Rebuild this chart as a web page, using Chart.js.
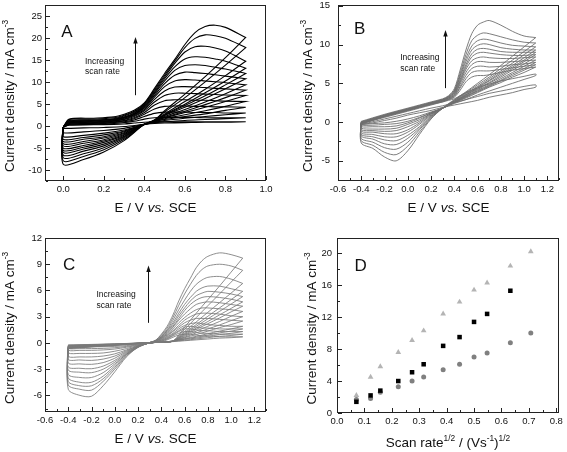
<!DOCTYPE html>
<html lang="en">
<head>
<meta charset="UTF-8">
<title>Cyclic voltammograms</title>
<style>
  body { margin: 0; background: #fff; }
  .panel { position: absolute; }
</style>
</head>
<body>
<canvas id="chartA" class="panel" width="283" height="226" style="left:0;top:0"></canvas>
<canvas id="chartB" class="panel" width="284" height="226" style="left:283px;top:0"></canvas>
<canvas id="chartC" class="panel" width="283" height="226" style="left:0;top:226px"></canvas>
<canvas id="chartD" class="panel" width="284" height="226" style="left:283px;top:226px"></canvas>

<script src="https://cdn.jsdelivr.net/npm/chart.js@4"></script>
<script>
// ---- panel A : potentials of the forward / reverse sweep, one row per scan rate
const aFwdE = [0, 0.03, 0.15, 0.25, 0.3, 0.35, 0.4, 0.45, 0.5, 0.55, 0.6, 0.65, 0.7, 0.75, 0.8, 0.9];
const aRevE = [0.9, 0.8, 0.7, 0.6, 0.5, 0.45, 0.4, 0.3, 0.2, 0.1, 0];
const aFwd = [
  [-0.2, 0.2, 0.3, 0.4, 0.5, 0.7, 0.9, 1.0, 1.0, 1.0, 1.0, 1.0, 1.0, 1.0, 1.0, 1.0],
  [-0.2, 0.3, 0.4, 0.6, 0.8, 1.1, 1.6, 1.9, 2.0, 2.0, 2.0, 2.0, 1.9, 1.9, 1.9, 1.9],
  [-0.2, 0.4, 0.5, 0.8, 1.0, 1.4, 2.2, 2.9, 3.2, 3.2, 3.2, 3.1, 3.1, 3.1, 3.0, 3.0],
  [-0.2, 0.5, 0.6, 0.9, 1.2, 1.7, 2.7, 3.9, 4.5, 4.6, 4.6, 4.5, 4.5, 4.4, 4.4, 4.3],
  [-0.2, 0.6, 0.7, 1.0, 1.3, 1.9, 3.1, 4.8, 5.8, 6.0, 6.0, 5.9, 5.9, 5.8, 5.7, 5.6],
  [-0.2, 0.7, 0.8, 1.1, 1.5, 2.2, 3.5, 5.5, 7.0, 7.5, 7.5, 7.4, 7.3, 7.2, 7.1, 7.0],
  [-0.2, 0.8, 0.9, 1.2, 1.6, 2.4, 3.8, 6.1, 8.0, 8.9, 9.0, 8.9, 8.8, 8.6, 8.5, 8.2],
  [-0.2, 0.9, 1.0, 1.3, 1.8, 2.6, 4.1, 6.6, 9.0, 10.3, 10.6, 10.5, 10.3, 10.1, 9.9, 9.4],
  [-0.2, 1.0, 1.1, 1.4, 1.9, 2.7, 4.3, 7.0, 9.7, 11.6, 12.3, 12.2, 12.0, 11.7, 11.4, 10.8],
  [-0.2, 1.1, 1.2, 1.5, 2.0, 2.9, 4.5, 7.4, 10.3, 12.7, 13.8, 14.0, 13.8, 13.4, 13.0, 12.0],
  [-0.2, 1.2, 1.3, 1.6, 2.1, 3.0, 4.7, 7.7, 10.8, 13.5, 15.3, 15.8, 15.7, 15.3, 14.8, 13.2],
  [-0.2, 1.3, 1.4, 1.7, 2.3, 3.2, 4.9, 8.0, 11.2, 14.3, 16.9, 18.1, 18.2, 17.8, 17.1, 14.8],
  [-0.2, 1.5, 1.6, 1.9, 2.5, 3.4, 5.1, 8.3, 11.6, 14.8, 17.9, 20.0, 20.8, 20.6, 20.0, 17.9],
  [-0.2, 1.6, 1.8, 2.1, 2.7, 3.6, 5.3, 8.6, 12.0, 15.2, 18.6, 21.3, 22.7, 23.0, 22.5, 20.2]
];
const aRev = [
  [1.0, 0.9, 0.9, 0.8, 0.7, 0.6, 0.4, -0.1, -0.3, -0.4, -0.5],
  [1.9, 1.7, 1.5, 1.3, 1.0, 0.8, 0.4, -0.5, -1.0, -1.3, -1.5],
  [3.0, 2.6, 2.2, 1.8, 1.3, 0.9, 0.4, -0.9, -1.6, -2.1, -2.4],
  [4.3, 3.6, 2.8, 2.2, 1.5, 1.0, 0.4, -1.1, -2.0, -2.6, -3.0],
  [5.6, 4.5, 3.5, 2.6, 1.7, 1.0, 0.4, -1.3, -2.4, -3.0, -3.5],
  [7.0, 5.6, 4.3, 3.1, 1.9, 1.1, 0.4, -1.5, -2.7, -3.5, -4.0],
  [8.2, 6.5, 4.9, 3.4, 2.0, 1.1, 0.4, -1.7, -3.1, -3.9, -4.5],
  [9.4, 7.4, 5.5, 3.8, 2.2, 1.2, 0.4, -1.9, -3.4, -4.4, -5.0],
  [10.8, 8.5, 6.3, 4.3, 2.4, 1.2, 0.4, -2.1, -3.7, -4.8, -5.5],
  [12.0, 9.4, 6.9, 4.7, 2.5, 1.2, 0.4, -2.3, -4.1, -5.2, -6.0],
  [13.2, 10.3, 7.6, 5.0, 2.6, 1.3, 0.4, -2.5, -4.5, -5.7, -6.6],
  [14.8, 11.5, 8.4, 5.6, 2.8, 1.3, 0.4, -2.7, -4.9, -6.3, -7.2],
  [17.9, 13.9, 10.1, 6.5, 3.2, 1.4, 0.4, -3.0, -5.4, -6.9, -7.9],
  [20.2, 15.6, 11.3, 7.3, 3.5, 1.4, 0.4, -3.3, -5.9, -7.6, -8.7]
];
const aXTicks = [0, 0.2, 0.4, 0.6, 0.8, 1.0];
const aYTicks = [-10, -5, 0, 5, 10, 15, 20, 25];

// ---- panel B
const bFwdE = [-0.4, -0.2, 0.0, 0.2, 0.3, 0.35, 0.4, 0.45, 0.5, 0.55, 0.6, 0.65, 0.7, 0.8, 0.9, 1.0, 1.1];
const bRevE = [1.1, 1.0, 0.9, 0.8, 0.7, 0.6, 0.5, 0.4, 0.3, 0.2, 0.1, 0.0, -0.1, -0.2, -0.3, -0.4];
const bFwd = [
  [-0.3, 0.4, 1.1, 1.8, 2.1, 2.3, 2.5, 2.7, 2.9, 3.1, 3.3, 3.5, 3.7, 4.0, 4.3, 4.6, 4.8],
  [-0.2, 0.6, 1.4, 2.2, 2.6, 2.8, 3.0, 3.4, 3.8, 4.1, 4.4, 4.7, 4.9, 5.3, 5.6, 5.9, 6.2],
  [-0.2, 0.7, 1.5, 2.3, 2.6, 2.9, 3.2, 4.1, 5.2, 5.8, 6.0, 6.0, 6.1, 6.4, 6.7, 6.9, 7.1],
  [-0.2, 0.7, 1.5, 2.3, 2.7, 2.9, 3.3, 4.4, 5.6, 6.4, 6.6, 6.6, 6.6, 6.8, 7.0, 7.2, 7.4],
  [-0.2, 0.7, 1.5, 2.3, 2.7, 3.0, 3.4, 4.6, 6.0, 6.9, 7.2, 7.2, 7.1, 7.2, 7.4, 7.5, 7.7],
  [-0.1, 0.8, 1.6, 2.4, 2.7, 3.0, 3.5, 4.9, 6.4, 7.4, 7.8, 7.8, 7.7, 7.7, 7.8, 7.9, 8.0],
  [-0.1, 0.8, 1.6, 2.4, 2.8, 3.1, 3.6, 5.1, 6.8, 7.9, 8.3, 8.4, 8.3, 8.2, 8.2, 8.3, 8.4],
  [-0.1, 0.8, 1.6, 2.4, 2.8, 3.1, 3.7, 5.3, 7.1, 8.4, 8.9, 9.0, 8.9, 8.7, 8.6, 8.6, 8.7],
  [-0.1, 0.8, 1.6, 2.4, 2.8, 3.2, 3.8, 5.5, 7.4, 8.8, 9.4, 9.5, 9.4, 9.1, 9.0, 9.0, 9.0],
  [0.0, 0.9, 1.7, 2.5, 2.9, 3.2, 3.9, 5.8, 7.8, 9.3, 9.9, 10.1, 10.0, 9.6, 9.4, 9.3, 9.3],
  [0.0, 0.9, 1.7, 2.5, 2.9, 3.3, 4.0, 6.0, 8.2, 9.8, 10.5, 10.7, 10.6, 10.2, 9.9, 9.8, 9.7],
  [0.0, 0.9, 1.7, 2.5, 2.9, 3.3, 4.1, 6.3, 8.7, 10.5, 11.2, 11.5, 11.4, 11.0, 10.6, 10.3, 10.2],
  [0.1, 1.0, 1.8, 2.6, 3.0, 3.4, 4.3, 6.7, 9.3, 11.4, 12.5, 12.9, 13.1, 12.5, 11.7, 11.1, 10.9]
];
const bRev = [
  [4.5, 4.2, 3.8, 3.5, 3.2, 2.8, 2.5, 2.2, 1.9, 1.5, 1.2, 0.9, 0.5, 0.2, -0.1, -0.3],
  [6.0, 5.5, 5.0, 4.5, 4.0, 3.5, 2.9, 2.4, 1.8, 1.3, 0.8, 0.4, 0.1, -0.1, -0.2, -0.3],
  [7.1, 6.4, 5.8, 5.1, 4.5, 3.8, 3.1, 2.5, 1.8, 1.2, 0.6, 0.1, -0.2, -0.3, -0.4, -0.4],
  [7.4, 6.7, 6.0, 5.3, 4.6, 3.9, 3.2, 2.5, 1.8, 1.2, 0.5, -0.1, -0.5, -0.6, -0.6, -0.6],
  [7.7, 6.9, 6.2, 5.4, 4.7, 4.0, 3.3, 2.5, 1.8, 1.1, 0.3, -0.3, -0.8, -0.9, -0.9, -0.8],
  [8.0, 7.2, 6.4, 5.6, 4.8, 4.1, 3.3, 2.6, 1.8, 1.1, 0.1, -0.6, -1.1, -1.2, -1.1, -1.0],
  [8.4, 7.5, 6.7, 5.8, 5.0, 4.2, 3.4, 2.6, 1.8, 1.0, -0.1, -1.0, -1.5, -1.5, -1.3, -1.2],
  [8.7, 7.8, 6.9, 6.0, 5.1, 4.3, 3.5, 2.6, 1.8, 0.9, -0.3, -1.3, -1.9, -1.9, -1.6, -1.4],
  [9.0, 8.0, 7.1, 6.2, 5.3, 4.4, 3.5, 2.7, 1.8, 0.8, -0.6, -1.7, -2.4, -2.3, -1.9, -1.6],
  [9.3, 8.3, 7.3, 6.4, 5.4, 4.5, 3.6, 2.7, 1.8, 0.7, -0.8, -2.1, -2.9, -2.8, -2.2, -1.8],
  [9.7, 8.7, 7.6, 6.6, 5.6, 4.6, 3.7, 2.8, 1.8, 0.6, -1.0, -2.6, -3.5, -3.3, -2.6, -2.1],
  [10.2, 9.1, 8.0, 6.9, 5.8, 4.8, 3.8, 2.8, 1.8, 0.5, -1.3, -3.1, -4.2, -3.9, -3.0, -2.4],
  [10.9, 9.7, 8.5, 7.3, 6.1, 5.0, 3.9, 2.9, 1.8, 0.4, -1.6, -3.7, -5.0, -4.5, -3.4, -2.7]
];
const bXTicks = [-0.6, -0.4, -0.2, 0, 0.2, 0.4, 0.6, 0.8, 1.0, 1.2];
const bYTicks = [-5, 0, 5, 10, 15];

// ---- panel C
const cFwdE = [-0.4, -0.2, 0.0, 0.2, 0.3, 0.35, 0.4, 0.45, 0.5, 0.55, 0.6, 0.65, 0.7, 0.75, 0.8, 0.9, 1.0, 1.1];
const cRevE = [1.1, 1.0, 0.9, 0.8, 0.7, 0.6, 0.5, 0.4, 0.3, 0.2, 0.1, 0.0, -0.1, -0.2, -0.3, -0.4];
const cFwd = [
  [-0.24, -0.17, -0.1, -0.02, 0.02, 0.05, 0.15, 0.35, 0.65, 0.9, 1.0, 1.0, 0.9, 0.8, 0.8, 0.7, 0.7, 0.7],
  [-0.28, -0.2, -0.12, -0.02, 0.02, 0.06, 0.2, 0.45, 0.8, 1.1, 1.3, 1.3, 1.2, 1.1, 1.1, 1.0, 1.0, 1.0],
  [-0.32, -0.22, -0.13, -0.03, 0.02, 0.08, 0.25, 0.5, 0.9, 1.3, 1.6, 1.6, 1.5, 1.4, 1.4, 1.3, 1.3, 1.3],
  [-0.36, -0.25, -0.15, -0.03, 0.03, 0.1, 0.3, 0.6, 1.0, 1.4, 1.8, 1.9, 1.8, 1.7, 1.7, 1.6, 1.6, 1.6],
  [-0.4, -0.28, -0.16, -0.04, 0.03, 0.1, 0.35, 0.7, 1.1, 1.6, 2.0, 2.2, 2.3, 2.2, 2.1, 2.0, 1.9, 1.9],
  [-0.44, -0.31, -0.18, -0.04, 0.03, 0.12, 0.4, 0.8, 1.3, 1.8, 2.3, 2.6, 2.8, 2.8, 2.8, 2.7, 2.6, 2.5],
  [-0.47, -0.33, -0.19, -0.04, 0.04, 0.15, 0.5, 0.9, 1.4, 2.0, 2.6, 3.0, 3.3, 3.4, 3.4, 3.3, 3.1, 3.0],
  [-0.5, -0.35, -0.2, -0.05, 0.04, 0.15, 0.5, 1.0, 1.6, 2.3, 2.9, 3.4, 3.8, 4.0, 4.0, 3.9, 3.8, 3.6],
  [-0.52, -0.36, -0.21, -0.05, 0.04, 0.2, 0.6, 1.1, 1.8, 2.6, 3.3, 3.9, 4.4, 4.6, 4.7, 4.6, 4.4, 4.2],
  [-0.54, -0.38, -0.22, -0.05, 0.05, 0.2, 0.6, 1.2, 1.9, 2.8, 3.7, 4.4, 4.9, 5.2, 5.3, 5.2, 5.0, 4.7],
  [-0.56, -0.39, -0.23, -0.05, 0.05, 0.2, 0.7, 1.3, 2.1, 3.1, 4.0, 4.8, 5.4, 5.7, 5.9, 5.8, 5.6, 5.3],
  [-0.58, -0.4, -0.24, -0.06, 0.05, 0.25, 0.7, 1.4, 2.3, 3.4, 4.4, 5.2, 5.9, 6.3, 6.5, 6.5, 6.2, 5.9],
  [-0.6, -0.42, -0.25, -0.06, 0.05, 0.25, 0.8, 1.5, 2.6, 3.8, 4.9, 5.9, 6.7, 7.2, 7.5, 7.6, 7.3, 6.8],
  [-0.62, -0.43, -0.26, -0.07, 0.05, 0.3, 0.9, 1.7, 2.9, 4.3, 5.6, 6.7, 7.7, 8.4, 8.8, 9.0, 8.8, 8.3],
  [-0.65, -0.45, -0.27, -0.07, 0.05, 0.3, 1.0, 1.9, 3.2, 4.8, 6.2, 7.4, 8.6, 9.4, 9.9, 10.3, 10.1, 9.7]
];
const cRev = [
  [0.7, 0.6, 0.55, 0.45, 0.35, 0.25, 0.15, 0.1, 0.0, -0.1, -0.17, -0.22, -0.24, -0.25, -0.25, -0.25],
  [1.0, 0.85, 0.75, 0.6, 0.45, 0.3, 0.2, 0.1, 0.0, -0.15, -0.3, -0.4, -0.43, -0.45, -0.45, -0.45],
  [1.3, 1.1, 0.95, 0.75, 0.55, 0.4, 0.2, 0.1, 0.0, -0.2, -0.4, -0.55, -0.62, -0.65, -0.65, -0.65],
  [1.6, 1.35, 1.15, 0.9, 0.65, 0.45, 0.2, 0.1, 0.0, -0.25, -0.5, -0.7, -0.8, -0.85, -0.85, -0.85],
  [1.9, 1.6, 1.35, 1.05, 0.75, 0.5, 0.2, 0.1, 0.0, -0.3, -0.65, -0.95, -1.15, -1.2, -1.2, -1.15],
  [2.5, 2.1, 1.75, 1.35, 0.95, 0.6, 0.2, 0.1, 0.0, -0.35, -0.8, -1.25, -1.5, -1.6, -1.6, -1.55],
  [3.0, 2.55, 2.05, 1.6, 1.15, 0.65, 0.2, 0.1, 0.0, -0.35, -0.9, -1.5, -1.85, -2.0, -1.95, -1.9],
  [3.6, 3.05, 2.45, 1.9, 1.35, 0.75, 0.2, 0.1, 0.0, -0.4, -1.0, -1.75, -2.25, -2.45, -2.4, -2.3],
  [4.2, 3.55, 2.85, 2.2, 1.55, 0.85, 0.2, 0.1, 0.0, -0.4, -1.1, -2.0, -2.65, -2.95, -2.9, -2.75],
  [4.7, 3.95, 3.2, 2.45, 1.7, 0.95, 0.2, 0.1, 0.0, -0.4, -1.2, -2.2, -3.0, -3.4, -3.35, -3.1],
  [5.3, 4.45, 3.6, 2.75, 1.9, 1.05, 0.2, 0.1, 0.0, -0.45, -1.3, -2.4, -3.4, -3.95, -3.95, -3.6],
  [5.9, 4.95, 4.0, 3.05, 2.1, 1.15, 0.2, 0.1, 0.0, -0.45, -1.3, -2.6, -3.8, -4.5, -4.5, -4.0],
  [6.8, 5.7, 4.6, 3.5, 2.4, 1.3, 0.2, 0.1, 0.0, -0.5, -1.4, -2.8, -4.1, -4.9, -4.9, -4.4],
  [8.3, 6.95, 5.6, 4.25, 2.9, 1.55, 0.2, 0.1, 0.0, -0.5, -1.5, -3.0, -4.4, -5.4, -5.3, -4.8],
  [9.7, 8.1, 6.5, 4.95, 3.4, 1.8, 0.2, 0.1, 0.0, -0.5, -1.6, -3.3, -4.9, -6.1, -6.0, -5.3]
];
const cXTicks = [-0.6, -0.4, -0.2, 0, 0.2, 0.4, 0.6, 0.8, 1.0, 1.2];
const cYTicks = [-6, -3, 0, 3, 6, 9, 12];

// ---- panel D : peak current vs square root of scan rate
const dRate = [0.0707, 0.1225, 0.1581, 0.2236, 0.2739, 0.3162, 0.3873, 0.4472, 0.5, 0.5477, 0.6325, 0.7071];
const dTriangle = [2.2, 4.5, 5.8, 7.6, 9.1, 10.3, 12.4, 13.9, 15.4, 16.3, 18.4, 20.2];
const dSquare = [1.4, 2.2, 2.8, 4.0, 5.1, 6.1, 8.4, 9.5, 11.4, 12.4, 15.3];
const dCircle = [1.7, 1.8, 2.6, 3.3, 4.0, 4.5, 5.4, 6.1, 7.0, 7.5, 8.8, 10.0];
const dXTicks = [0, 0.1, 0.2, 0.3, 0.4, 0.5, 0.6, 0.7, 0.8];
const dYTicks = [0, 4, 8, 12, 16, 20];

const FONT = "'Liberation Sans', Arial, sans-serif";
const yTitle = [['Current density / mA cm'], ['-3', 'sup']];
const eTitle = [['E / V '], ['vs.', 'it'], [' SCE']];
const rateTitle = [['Scan rate'], ['1/2', 'sup'], [' / (Vs'], ['-1', 'sup'], [')'], ['1/2', 'sup']];

function cvSets(fwdE, fwd, revE, rev, color, width) {
  return fwd.map((row, k) => ({
    data: fwdE.map((e, i) => ({ x: e, y: row[i] }))
      .concat(revE.map((e, i) => ({ x: e, y: rev[k][i] })))
      .concat([{ x: fwdE[0], y: row[0] }]),
    showLine: true,
    borderColor: color,
    borderWidth: width,
    pointRadius: 0,
    tension: 0.3
  }));
}

function minors(major, min, max) {
  const step = major[1] - major[0];
  const out = [];
  for (let v = major[0] - step / 2; v <= max + 1e-9; v += step) {
    if (v >= min - 1e-9) out.push(v);
  }
  return out;
}

function richText(ctx, parts, x, y, size) {
  const fontOf = p => (p[1] === 'it' ? 'italic ' : '') + (p[1] === 'sup' ? size * 0.62 : size) + 'px ' + FONT;
  let w = 0;
  parts.forEach(p => { ctx.font = fontOf(p); w += ctx.measureText(p[0]).width; });
  let cx = x - w / 2;
  parts.forEach(p => {
    ctx.font = fontOf(p);
    ctx.fillText(p[0], cx, p[1] === 'sup' ? y - size * 0.42 : y);
    cx += ctx.measureText(p[0]).width;
  });
}

function decorate(chart, c) {
  const { ctx, chartArea: a } = chart;
  const sx = chart.scales.x, sy = chart.scales.y;
  const L = Math.round(a.left), R = Math.round(a.right), T = Math.round(a.top), B = Math.round(a.bottom);
  ctx.save();
  ctx.globalAlpha = 1;
  ctx.globalCompositeOperation = 'source-over';
  ctx.fillStyle = '#222';

  // frame, drawn as filled 1px strips
  ctx.fillRect(L, T, R - L, 1);
  ctx.fillRect(L, B - 1, R - L, 1);
  ctx.fillRect(L, T, 1, B - T);
  ctx.fillRect(R - 1, T, 1, B - T);

  // inward ticks, bottom and left only
  const tx = (v, len) => ctx.fillRect(Math.round(sx.getPixelForValue(v)), B - 1 - len, 1, len);
  const ty = (v, len) => ctx.fillRect(L + 1, Math.round(sy.getPixelForValue(v)), len, 1);
  c.xTicks.forEach(v => tx(v, 4));
  minors(c.xTicks, c.xMin, c.xMax).forEach(v => tx(v, 2));
  c.yTicks.forEach(v => ty(v, 4));
  minors(c.yTicks, c.yMin, c.yMax).forEach(v => ty(v, 2));

  // axis titles
  ctx.fillStyle = '#111';
  ctx.textAlign = 'left';
  ctx.textBaseline = 'alphabetic';
  richText(ctx, c.xTitle, (a.left + a.right) / 2, a.bottom + c.xTitleGap, 13.5);
  ctx.save();
  ctx.translate(a.left - c.yTitleGap, (a.top + a.bottom) / 2 + 3);
  ctx.rotate(-Math.PI / 2);
  richText(ctx, yTitle, 0, 0, 13.5);
  ctx.restore();

  // panel letter
  ctx.font = '17px ' + FONT;
  ctx.fillText(c.letter, sx.getPixelForValue(c.letterAt[0]), sy.getPixelForValue(c.letterAt[1]));

  // "Increasing scan rate" note and arrow
  if (c.note) {
    ctx.font = '8.5px ' + FONT;
    const nx = sx.getPixelForValue(c.note.x);
    ctx.fillText('Increasing', nx, sy.getPixelForValue(c.note.y1));
    ctx.fillText('scan rate', nx, sy.getPixelForValue(c.note.y2));
    const ax = Math.round(sx.getPixelForValue(c.arrow.x));
    const y0 = sy.getPixelForValue(c.arrow.from), y1 = sy.getPixelForValue(c.arrow.to);
    ctx.fillRect(ax, y1 + 5, 1, y0 - y1 - 5);
    ctx.beginPath();
    ctx.moveTo(ax + 0.5, y1); ctx.lineTo(ax - 1.7, y1 + 6.5); ctx.lineTo(ax + 2.7, y1 + 6.5);
    ctx.closePath();
    ctx.fill();
  }
  ctx.restore();
}

function panel(id, c) {
  const zero = s => { s.paddingLeft = s.paddingRight = s.paddingTop = s.paddingBottom = 0; };
  const tickFont = { family: FONT, size: 9.5 };
  new Chart(document.getElementById(id), {
    type: 'scatter',
    data: { datasets: c.datasets },
    options: {
      responsive: false,
      animation: false,
      events: [],
      layout: { padding: { left: 0, top: c.top, right: c.right, bottom: 0 }, autoPadding: false },
      plugins: { legend: { display: false }, tooltip: { enabled: false } },
      scales: {
        x: {
          type: 'linear', min: c.xMin, max: c.xMax,
          afterBuildTicks: s => { s.ticks = c.xTicks.map(v => ({ value: v })); },
          afterFit: s => { s.height = c.xH; zero(s); },
          grid: { display: false, drawTicks: false }, border: { display: false },
          ticks: { padding: 3, maxRotation: 0, autoSkip: false, color: '#111', font: tickFont,
            callback: v => v.toFixed(1) }
        },
        y: {
          type: 'linear', min: c.yMin, max: c.yMax,
          afterBuildTicks: s => { s.ticks = c.yTicks.map(v => ({ value: v })); },
          afterFit: s => { s.width = c.yW; zero(s); },
          grid: { display: false, drawTicks: false }, border: { display: false },
          ticks: { padding: c.yPad, autoSkip: false, color: '#111', font: tickFont,
            callback: v => String(v) }
        }
      }
    },
    plugins: [{ id: 'decor', afterDraw: chart => decorate(chart, c) }]
  });
}

panel('chartA', {
  datasets: cvSets(aFwdE, aFwd, aRevE, aRev, '#000', 1.1),
  xMin: -0.09, xMax: 1.0, yMin: -12.5, yMax: 27.6, xTicks: aXTicks, yTicks: aYTicks,
  top: 5, right: 17, xH: 45, yW: 45, yPad: 3, xTitleGap: 31, yTitleGap: 31,
  xTitle: eTitle, letter: 'A', letterAt: [-0.01, 20.3],
  note: { x: 0.107, y1: 14.1, y2: 11.85 }, arrow: { x: 0.354, from: 7.05, to: 20.3 }
});

panel('chartB', {
  datasets: cvSets(bFwdE, bFwd, bRevE, bRev, '#6e6e6e', 0.9),
  xMin: -0.6, xMax: 1.3, yMin: -7.6, yMax: 15.1, xTicks: bXTicks, yTicks: bYTicks,
  top: 5, right: 8, xH: 45, yW: 55, yPad: 8, xTitleGap: 31, yTitleGap: 26,
  xTitle: eTitle, letter: 'B', letterAt: [-0.463, 11.35],
  note: { x: -0.065, y1: 8.02, y2: 6.65 }, arrow: { x: 0.321, from: 4.38, to: 11.88 }
});

panel('chartC', {
  datasets: cvSets(cFwdE, cFwd, cRevE, cRev, '#7a7a7a', 0.85),
  xMin: -0.6, xMax: 1.3, yMin: -7.9, yMax: 12, xTicks: cXTicks, yTicks: cYTicks,
  top: 12, right: 17, xH: 40, yW: 45, yPad: 3, xTitleGap: 31, yTitleGap: 31,
  xTitle: eTitle, letter: 'C', letterAt: [-0.446, 8.31],
  note: { x: -0.158, y1: 5.23, y2: 4.0 }, arrow: { x: 0.283, from: 2.3, to: 8.85 }
});

panel('chartD', {
  datasets: [
    { data: dTriangle.map((y, i) => ({ x: dRate[i], y })), pointStyle: 'triangle', pointRadius: 3.3,
      backgroundColor: '#b4b4b4', borderColor: '#b4b4b4', borderWidth: 0 },
    { data: dSquare.map((y, i) => ({ x: dRate[i], y })), pointStyle: 'rect', pointRadius: 3.2,
      backgroundColor: '#000', borderColor: '#000', borderWidth: 0 },
    { data: dCircle.map((y, i) => ({ x: dRate[i], y })), pointStyle: 'circle', pointRadius: 2.5,
      backgroundColor: '#808080', borderColor: '#808080', borderWidth: 0 }
  ],
  xMin: 0, xMax: 0.81, yMin: 0, yMax: 21.9, xTicks: dXTicks, yTicks: dYTicks,
  top: 12, right: 8, xH: 39, yW: 54, yPad: 5, xTitleGap: 34, yTitleGap: 21,
  xTitle: rateTitle, letter: 'D', letterAt: [0.064, 17.8]
});
</script>
</body>
</html>
